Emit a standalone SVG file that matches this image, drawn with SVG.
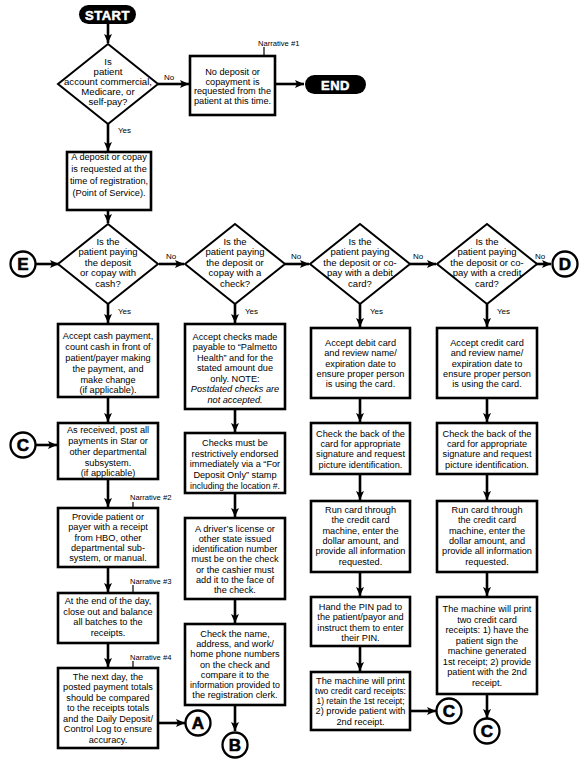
<svg xmlns="http://www.w3.org/2000/svg" width="587" height="765" viewBox="0 0 587 765">
<style>
.bx{fill:#fff;stroke:#000;stroke-width:2.6}
.dm{fill:#fff;stroke:#000;stroke-width:2}
.cn{fill:none;stroke:#000;stroke-width:2.6}
.nl{fill:none;stroke:#000;stroke-width:1.2}
.ci{fill:#fff;stroke:#000;stroke-width:2.3}
text{font-family:"Liberation Sans",Arial,sans-serif;fill:#000}
.t{font-size:9.2px;text-anchor:middle}
.q{font-size:9.5px}
.q1{font-size:9.6px}
.it{font-style:italic}
.lb{font-size:8px}
.nv{font-size:7.6px}
.pl{font-size:13px;font-weight:bold;fill:#fff;text-anchor:middle;stroke:#fff;stroke-width:0.5;letter-spacing:0.5px}
.cl{font-size:17px;font-weight:bold;text-anchor:middle;stroke:#000;stroke-width:0.6}
</style>
<defs>
<marker id="ah" markerUnits="userSpaceOnUse" markerWidth="10" markerHeight="8" refX="9" refY="4" orient="auto">
<path d="M0,0 L9,4 L0,8 L2,4 z" fill="#000"/>
</marker>
</defs>

<g id="connectors">
<line class="cn" x1="108" y1="24" x2="108" y2="43" marker-end="url(#ah)"/>
<line class="cn" x1="158" y1="84" x2="189" y2="84" marker-end="url(#ah)"/>
<line class="cn" x1="275" y1="84" x2="304" y2="84" marker-end="url(#ah)"/>
<line class="cn" x1="108" y1="124" x2="108" y2="151" marker-end="url(#ah)"/>
<line class="cn" x1="108" y1="210" x2="108" y2="223" marker-end="url(#ah)"/>
<line class="cn" x1="36" y1="264" x2="59" y2="264" marker-end="url(#ah)"/>
<line class="cn" x1="159" y1="264" x2="184" y2="264" marker-end="url(#ah)"/>
<line class="cn" x1="285" y1="264" x2="309" y2="264" marker-end="url(#ah)"/>
<line class="cn" x1="410" y1="264" x2="436" y2="264" marker-end="url(#ah)"/>
<line class="cn" x1="536" y1="264" x2="551" y2="264" marker-end="url(#ah)"/>
<line class="cn" x1="108" y1="304" x2="108" y2="323" marker-end="url(#ah)"/>
<line class="cn" x1="108" y1="397" x2="108" y2="422" marker-end="url(#ah)"/>
<line class="cn" x1="36" y1="445" x2="57" y2="445" marker-end="url(#ah)"/>
<line class="cn" x1="108" y1="479" x2="108" y2="507" marker-end="url(#ah)"/>
<line class="cn" x1="108" y1="567" x2="108" y2="592" marker-end="url(#ah)"/>
<line class="cn" x1="108" y1="643" x2="108" y2="667" marker-end="url(#ah)"/>
<line class="cn" x1="158" y1="723" x2="185" y2="723" marker-end="url(#ah)"/>
<line class="cn" x1="235" y1="304" x2="235" y2="323" marker-end="url(#ah)"/>
<line class="cn" x1="235" y1="409" x2="235" y2="432" marker-end="url(#ah)"/>
<line class="cn" x1="235" y1="493" x2="235" y2="517" marker-end="url(#ah)"/>
<line class="cn" x1="235" y1="599" x2="235" y2="623" marker-end="url(#ah)"/>
<line class="cn" x1="235" y1="705" x2="235" y2="731" marker-end="url(#ah)"/>
<line class="cn" x1="360" y1="304" x2="360" y2="327" marker-end="url(#ah)"/>
<line class="cn" x1="360" y1="398" x2="360" y2="422" marker-end="url(#ah)"/>
<line class="cn" x1="360" y1="474" x2="360" y2="500" marker-end="url(#ah)"/>
<line class="cn" x1="360" y1="572" x2="360" y2="596" marker-end="url(#ah)"/>
<line class="cn" x1="360" y1="646" x2="360" y2="671" marker-end="url(#ah)"/>
<line class="cn" x1="410" y1="711" x2="436" y2="711" marker-end="url(#ah)"/>
<line class="cn" x1="487" y1="304" x2="487" y2="327" marker-end="url(#ah)"/>
<line class="cn" x1="487" y1="398" x2="487" y2="422" marker-end="url(#ah)"/>
<line class="cn" x1="487" y1="474" x2="487" y2="500" marker-end="url(#ah)"/>
<line class="cn" x1="487" y1="572" x2="487" y2="596" marker-end="url(#ah)"/>
<line class="cn" x1="487" y1="694" x2="487" y2="718" marker-end="url(#ah)"/>
<line class="nl" x1="264" y1="47" x2="264" y2="56"/>
<line class="nl" x1="133" y1="502" x2="133" y2="508"/>
<line class="nl" x1="133" y1="585" x2="133" y2="593"/>
<line class="nl" x1="133" y1="661" x2="133" y2="668"/>
<text class="lb" x="118" y="133">Yes</text>
<text class="lb" x="164" y="80">No</text>
<text class="lb" x="166" y="259">No</text>
<text class="lb" x="291" y="259">No</text>
<text class="lb" x="413" y="259">No</text>
<text class="lb" x="535" y="259">No</text>
<text class="lb" x="118" y="314">Yes</text>
<text class="lb" x="245" y="314">Yes</text>
<text class="lb" x="370" y="314">Yes</text>
<text class="lb" x="497" y="314">Yes</text>
<text class="nv" x="258" y="46">Narrative #1</text>
<text class="nv" x="130" y="500">Narrative #2</text>
<text class="nv" x="130" y="584">Narrative #3</text>
<text class="nv" x="130" y="660">Narrative #4</text>
</g>

<g id="start">
<rect x="79" y="5" width="57" height="19" rx="9.5" fill="#000"/>
<text class="pl" x="107.5" y="19.5">START</text>
</g>
<g id="end">
<rect x="305" y="75" width="61" height="19" rx="9.5" fill="#000"/>
<text class="pl" x="335.5" y="89.5">END</text>
</g>

<g id="q-account">
<polygon class="dm" points="108,44 158,84 108,124 58,84"/>
<text class="t q1" x="108" y="65">Is</text>
<text class="t q1" x="108" y="75">patient</text>
<text class="t q1" x="108" y="85">account commercial,</text>
<text class="t q1" x="108" y="95">Medicare, or</text>
<text class="t q1" x="108" y="105">self-pay?</text>
</g>

<g id="no-deposit">
<rect class="bx" x="190" y="56" width="85" height="59"/>
<text class="t" x="232.5" y="75">No deposit or</text>
<text class="t" x="232.5" y="84.7">copayment is</text>
<text class="t" x="232.5" y="94.3">requested from the</text>
<text class="t" x="232.5" y="104">patient at this time.</text>
</g>

<g id="deposit-requested">
<rect class="bx" x="67" y="152" width="84" height="58"/>
<text class="t" x="109" y="160">A deposit or copay</text>
<text class="t" x="109" y="172">is requested at the</text>
<text class="t" x="109" y="184">time of registration,</text>
<text class="t" x="109" y="196">(Point of Service).</text>
</g>

<g id="conn-e">
<circle class="ci" cx="23" cy="264" r="12.5"/>
<text class="cl" x="23" y="270">E</text>
</g>

<g id="q-cash">
<polygon class="dm" points="108,224 158,264 108,304 58,264"/>
<text class="t q" x="108" y="244.5">Is the</text>
<text class="t q" x="108" y="255">patient paying</text>
<text class="t q" x="108" y="265.5">the deposit</text>
<text class="t q" x="108" y="276">or copay with</text>
<text class="t q" x="108" y="286.5">cash?</text>
</g>

<g id="q-check">
<polygon class="dm" points="235,224 285,264 235,304 185,264"/>
<text class="t q" x="235" y="244.5">Is the</text>
<text class="t q" x="235" y="255">patient paying</text>
<text class="t q" x="235" y="265.5">the deposit or</text>
<text class="t q" x="235" y="276">copay with a</text>
<text class="t q" x="235" y="286.5">check?</text>
</g>

<g id="q-debit">
<polygon class="dm" points="360,224 410,264 360,304 310,264"/>
<text class="t q" x="360" y="244.5">Is the</text>
<text class="t q" x="360" y="255">patient paying</text>
<text class="t q" x="360" y="265.5">the deposit or co-</text>
<text class="t q" x="360" y="276">pay with a debit</text>
<text class="t q" x="360" y="286.5">card?</text>
</g>

<g id="q-credit">
<polygon class="dm" points="487,224 537,264 487,304 437,264"/>
<text class="t q" x="487" y="244.5">Is the</text>
<text class="t q" x="487" y="255">patient paying</text>
<text class="t q" x="487" y="265.5">the deposit or co-</text>
<text class="t q" x="487" y="276">pay with a credit</text>
<text class="t q" x="487" y="286.5">card?</text>
</g>

<g id="conn-d">
<circle class="ci" cx="565" cy="264" r="12.5"/>
<text class="cl" x="565" y="270">D</text>
</g>

<g id="cash-accept">
<rect class="bx" x="58" y="324" width="100" height="73"/>
<text class="t" x="108" y="339">Accept cash payment,</text>
<text class="t" x="108" y="350">count cash in front of</text>
<text class="t" x="108" y="361">patient/payer making</text>
<text class="t" x="108" y="372">the payment, and</text>
<text class="t" x="108" y="383">make change</text>
<text class="t" x="108" y="393">(if applicable).</text>
</g>

<g id="post-payments">
<rect class="bx" x="58" y="423" width="100" height="56"/>
<text class="t" x="108" y="433">As received, post all</text>
<text class="t" x="108" y="444">payments in Star or</text>
<text class="t" x="108" y="455">other departmental</text>
<text class="t" x="108" y="466">subsystem.</text>
<text class="t" x="108" y="476">(if applicable)</text>
</g>

<g id="conn-c-left">
<circle class="ci" cx="23" cy="445" r="12.5"/>
<text class="cl" x="23" y="451">C</text>
</g>

<g id="provide-receipt">
<rect class="bx" x="58" y="508" width="100" height="59"/>
<text class="t" x="108" y="519.5">Provide patient or</text>
<text class="t" x="108" y="530">payer with a receipt</text>
<text class="t" x="108" y="540.5">from HBO, other</text>
<text class="t" x="108" y="551">departmental sub-</text>
<text class="t" x="108" y="561">system, or manual.</text>
</g>

<g id="end-of-day">
<rect class="bx" x="58" y="593" width="100" height="50"/>
<text class="t" x="108" y="604">At the end of the day,</text>
<text class="t" x="108" y="614.5">close out and balance</text>
<text class="t" x="108" y="625">all batches to the</text>
<text class="t" x="108" y="635.5">receipts.</text>
</g>

<g id="next-day">
<rect class="bx" x="58" y="668" width="100" height="80"/>
<text class="t" x="108" y="679.5">The next day, the</text>
<text class="t" x="108" y="690">posted payment totals</text>
<text class="t" x="108" y="700.5">should be compared</text>
<text class="t" x="108" y="711">to the receipts totals</text>
<text class="t" x="108" y="721.5">and the Daily Deposit/</text>
<text class="t" x="108" y="732">Control Log to ensure</text>
<text class="t" x="108" y="742.5">accuracy.</text>
</g>

<g id="conn-a">
<circle class="ci" cx="198" cy="723" r="12.5"/>
<text class="cl" x="198" y="729">A</text>
</g>

<g id="check-accept">
<rect class="bx" x="185" y="324" width="100" height="85"/>
<text class="t" x="235" y="339.5">Accept checks made</text>
<text class="t" x="235" y="350">payable to “Palmetto</text>
<text class="t" x="235" y="360.5">Health” and for the</text>
<text class="t" x="235" y="371">stated amount due</text>
<text class="t" x="235" y="381.5">only. NOTE:</text>
<text class="t it" x="235" y="392">Postdated checks are</text>
<text class="t it" x="235" y="402.5">not accepted.</text>
</g>

<g id="check-endorse">
<rect class="bx" x="185" y="433" width="100" height="60"/>
<text class="t" x="235" y="446">Checks must be</text>
<text class="t" x="235" y="456.7">restrictively endorsed</text>
<text class="t" x="235" y="467.3">immediately via a “For</text>
<text class="t" x="235" y="478">Deposit Only” stamp</text>
<text class="t" x="235" y="488.5" textLength="90" lengthAdjust="spacingAndGlyphs">including the location #.</text>
</g>

<g id="check-license">
<rect class="bx" x="185" y="518" width="100" height="81"/>
<text class="t" x="235" y="531.5">A driver’s license or</text>
<text class="t" x="235" y="541.8">other state issued</text>
<text class="t" x="235" y="552">identification number</text>
<text class="t" x="235" y="562.2">must be on the check</text>
<text class="t" x="235" y="572.5">or the cashier must</text>
<text class="t" x="235" y="582.7">add it to the face of</text>
<text class="t" x="235" y="593">the check.</text>
</g>

<g id="check-name">
<rect class="bx" x="185" y="624" width="100" height="81"/>
<text class="t" x="235" y="637">Check the name,</text>
<text class="t" x="235" y="647">address, and work/</text>
<text class="t" x="235" y="657.3">home phone numbers</text>
<text class="t" x="235" y="667.5">on the check and</text>
<text class="t" x="235" y="677.8">compare it to the</text>
<text class="t" x="235" y="688" textLength="90" lengthAdjust="spacingAndGlyphs">information provided to</text>
<text class="t" x="235" y="698">the registration clerk.</text>
</g>

<g id="conn-b">
<circle class="ci" cx="235" cy="745" r="12.5"/>
<text class="cl" x="235" y="751">B</text>
</g>

<g id="debit-accept">
<rect class="bx" x="311" y="328" width="99" height="70"/>
<text class="t" x="360.5" y="346">Accept debit card</text>
<text class="t" x="360.5" y="356.3">and review name/</text>
<text class="t" x="360.5" y="366.7">expiration date to</text>
<text class="t" x="360.5" y="377">ensure proper person</text>
<text class="t" x="360.5" y="387.3">is using the card.</text>
</g>

<g id="debit-back">
<rect class="bx" x="311" y="423" width="99" height="51"/>
<text class="t" x="360.5" y="437">Check the back of the</text>
<text class="t" x="360.5" y="447.2">card for appropriate</text>
<text class="t" x="360.5" y="457.4">signature and request</text>
<text class="t" x="360.5" y="467.6">picture identification.</text>
</g>

<g id="debit-run">
<rect class="bx" x="311" y="501" width="99" height="71"/>
<text class="t" x="360.5" y="513">Run card through</text>
<text class="t" x="360.5" y="523.3">the credit card</text>
<text class="t" x="360.5" y="533.6">machine, enter the</text>
<text class="t" x="360.5" y="544">dollar amount, and</text>
<text class="t" x="360.5" y="554.3">provide all information</text>
<text class="t" x="360.5" y="564.6">requested.</text>
</g>

<g id="debit-pin">
<rect class="bx" x="311" y="597" width="99" height="49"/>
<text class="t" x="360.5" y="609.5">Hand the PIN pad to</text>
<text class="t" x="360.5" y="620">the patient/payor and</text>
<text class="t" x="360.5" y="630.5">instruct them to enter</text>
<text class="t" x="360.5" y="641">their PIN.</text>
</g>

<g id="debit-receipts">
<rect class="bx" x="311" y="672" width="99" height="58"/>
<text class="t" x="360.5" y="683.5">The machine will print</text>
<text class="t" x="360.5" y="693.8" textLength="91" lengthAdjust="spacingAndGlyphs">two credit card receipts:</text>
<text class="t" x="360.5" y="704" textLength="88" lengthAdjust="spacingAndGlyphs">1) retain the 1st receipt;</text>
<text class="t" x="360.5" y="714.3">2) provide patient with</text>
<text class="t" x="360.5" y="724.5">2nd receipt.</text>
</g>

<g id="conn-c-debit">
<circle class="ci" cx="449" cy="711" r="12.5"/>
<text class="cl" x="449" y="717">C</text>
</g>

<g id="credit-accept">
<rect class="bx" x="437" y="328" width="100" height="70"/>
<text class="t" x="487" y="346">Accept credit card</text>
<text class="t" x="487" y="356.3">and review name/</text>
<text class="t" x="487" y="366.7">expiration date to</text>
<text class="t" x="487" y="377">ensure proper person</text>
<text class="t" x="487" y="387.3">is using the card.</text>
</g>

<g id="credit-back">
<rect class="bx" x="437" y="423" width="100" height="51"/>
<text class="t" x="487" y="437">Check the back of the</text>
<text class="t" x="487" y="447.2">card for appropriate</text>
<text class="t" x="487" y="457.4">signature and request</text>
<text class="t" x="487" y="467.6">picture identification.</text>
</g>

<g id="credit-run">
<rect class="bx" x="437" y="501" width="100" height="71"/>
<text class="t" x="487" y="513">Run card through</text>
<text class="t" x="487" y="523.3">the credit card</text>
<text class="t" x="487" y="533.6">machine, enter the</text>
<text class="t" x="487" y="544">dollar amount, and</text>
<text class="t" x="487" y="554.3">provide all information</text>
<text class="t" x="487" y="564.6">requested.</text>
</g>

<g id="credit-receipts">
<rect class="bx" x="437" y="597" width="100" height="97"/>
<text class="t" x="487" y="612">The machine will print</text>
<text class="t" x="487" y="622.5">two credit card</text>
<text class="t" x="487" y="633">receipts: 1) have the</text>
<text class="t" x="487" y="643.5">patient sign the</text>
<text class="t" x="487" y="654">machine generated</text>
<text class="t" x="487" y="664.5">1st receipt; 2) provide</text>
<text class="t" x="487" y="675">patient with the 2nd</text>
<text class="t" x="487" y="685.5">receipt.</text>
</g>

<g id="conn-c-credit">
<circle class="ci" cx="487" cy="731" r="12.5"/>
<text class="cl" x="487" y="737">C</text>
</g>
</svg>
